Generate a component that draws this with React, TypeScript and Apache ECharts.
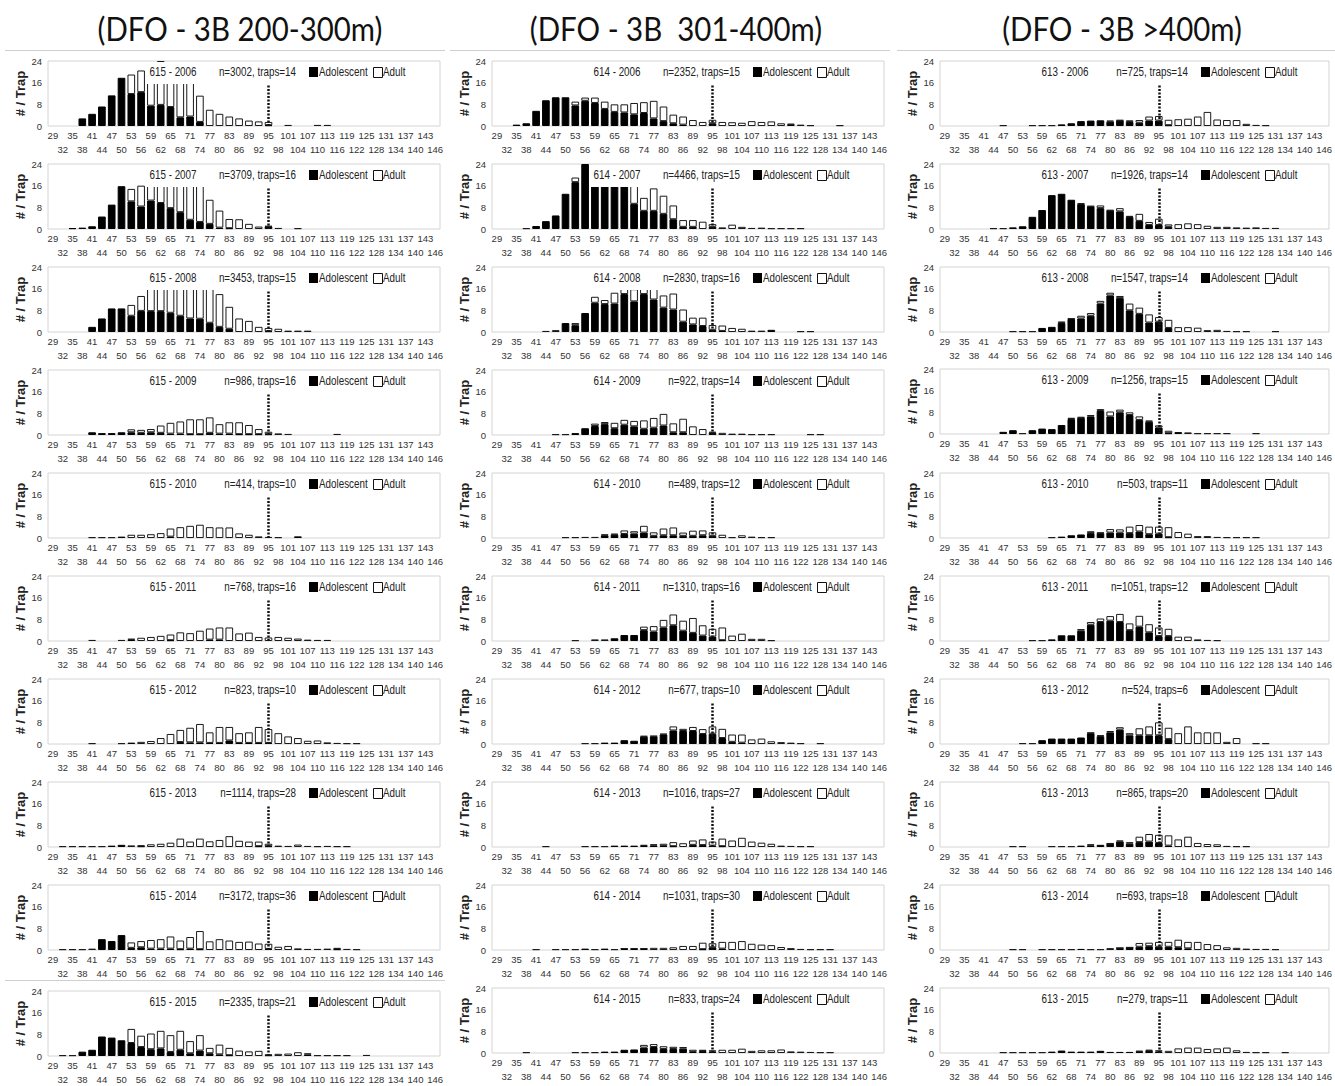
import React, { useEffect, useRef } from "react";
import * as echarts from "echarts";

// ---------- categories / ticks ----------
const sizeClasses = ["29","32","35","38","41","44","47","50","53","56","59","62","65","68","71","74","77","80","83","86","89","92","95","98","101","104","107","110","113","116","119","122","125","128","131","134","137","140","143","146"];
const yTicks = [0, 8, 16, 24];
const thresholdSize = "95";
const columnTitles = ["(DFO - 3B 200-300m)", "(DFO - 3B  301-400m)", "(DFO - 3B >400m)"];
const sites = ["615", "614", "613"];
const years = [2006, 2007, 2008, 2009, 2010, 2011, 2012, 2013, 2014, 2015];

const n615 = [3002, 3709, 3453, 986, 414, 768, 823, 1114, 3172, 2335];
const traps615 = [14, 16, 15, 16, 10, 16, 10, 28, 36, 21];
const n614 = [2352, 4466, 2830, 922, 489, 1310, 677, 1016, 1031, 833];
const traps614 = [15, 15, 16, 14, 12, 16, 10, 27, 30, 24];
const n613 = [725, 1926, 1547, 1256, 503, 1051, 524, 865, 693, 279];
const traps613 = [14, 14, 14, 15, 11, 12, 6, 20, 18, 11];

// ---------- site 615 (200-300m) ----------
const adol615_2006 = [0,0,0,2.8,4.5,7.2,11.3,17.8,11.8,12.5, 7.5,7.8,7,3.2,3.5,1.5,0,0,0,0, 0,0,0.3,0,0,0,0,0,0,0, 0,0,0,0,0,0,0,0,0,0];
const adult615_2006 = [0,0,0,0,0,0,0,0,7.2,8, 14.5,16.2,15,16.8,15.5,9.7,6,4.5,3.5,2.8, 2,1.7,1.2,0,0.4,0,0,0.4,0.4,0, 0,0,0,0,0,0,0,0,0,0];
const adol615_2007 = [0,0,0.3,0.5,1,4.6,9,15.8,10.2,8.3, 10.5,9.6,7.7,6.2,3.4,2.6,1.9,0.5,0.3,0, 0,0,0.9,0,0,0,0,0,0,0, 0,0,0,0,0,0,0,0,0,0];
const adult615_2007 = [0,0,0,0,0,0,0,0,4.6,7.7, 7.5,10.4,12.3,12.8,14.6,14.4,8.9,6.3,3.4,3.6, 1.9,0.9,0.2,0.4,0,0.3,0,0,0,0, 0,0,0,0,0,0,0,0,0,0];
const adol615_2008 = [0,0,0,0,1.9,5,8.7,8.7,6,7.8, 7.7,7.7,7.1,6,5,4.9,3.4,1.9,1.2,0, 0,0,0.3,0,0,0,0,0,0,0, 0,0,0,0,0,0,0,0,0,0];
const adult615_2008 = [0,0,0,0,0,0,0,0,4,5.5, 9.3,10.3,10.9,12,12,12.1,13.1,12.1,8.1,5, 4.1,1.9,1.2,1.2,0.5,0.5,0.5,0,0,0, 0,0,0,0,0,0,0,0,0,0];
const adol615_2009 = [0,0,0,0,1,0.7,0.7,1,1,0.8, 1,0.8,0.5,0.5,0.3,0.3,0.8,0.5,0.5,0.3, 0.3,0.3,0.3,0,0,0,0,0,0,0, 0,0,0,0,0,0,0,0,0,0];
const adult615_2009 = [0,0,0,0,0,0,0,0,1.1,1.1, 1.2,2.7,4,4.5,5.5,5.5,5.7,3.5,4.2,4.4, 3.4,1.9,0.9,0.6,0.4,0,0,0,0,0.4, 0,0,0,0,0,0,0,0,0,0];
const adol615_2010 = [0,0,0,0,0,0,0,0.5,0,0, 0,0,0.5,0,0,0,0,0,0,0, 0,0,0,0,0,0.6,0,0,0,0, 0,0,0,0,0,0,0,0,0,0];
const adult615_2010 = [0,0,0,0,0.3,0.3,0.3,0,1.2,1.2, 1.4,1.8,3,4,4.5,4.9,4,3.9,3.9,1.7, 1.2,0.6,0.4,0.3,0,0,0,0,0,0, 0,0,0,0,0,0,0,0,0,0];
const adol615_2011 = [0,0,0,0,0,0,0,0,0.5,0, 0,0,0.3,0,0,0,0.5,0.5,0,0, 0,0,0,0,0,0,0,0,0,0, 0,0,0,0,0,0,0,0,0,0];
const adult615_2011 = [0,0,0,0,0.4,0,0,0.4,0.3,1.2, 1.5,1.9,2.1,3.2,2.9,3.8,4.1,4.5,5,2.8, 3.1,1.5,1.3,1.5,1.2,0.9,0.5,0.4,0.4,0, 0,0,0,0,0,0,0,0,0,0];
const adol615_2012 = [0,0,0,0,0,0,0,0,0.5,0, 0,0,0,0.7,0.6,0.6,0.4,0.4,1.3,0.4, 0.4,0.4,0.4,0,0,0,0,0,0,0, 0,0,0,0,0,0,0,0,0,0];
const adult615_2012 = [0,0,0,0,0.3,0,0,0.3,0,0.8, 1.1,2.2,3.7,4.5,5.4,6.8,3.9,5.9,5,3.6, 3.9,5.9,5.1,4,2.8,2.2,1.2,1.3,0.6,0.4, 0.3,0.3,0,0,0,0,0,0,0,0];
const adol615_2013 = [0,0,0,0,0,0,0.5,0.8,0,0.3, 0,0,0,0,0,0,0,0,0,0, 0,0.3,0.3,0,0,0,0,0,0,0, 0,0,0,0,0,0,0,0,0,0];
const adult615_2013 = [0,0.3,0.3,0.3,0.3,0.3,0,0,0.6,0.3, 1,1.2,1.6,3.1,2,3.1,2.1,2.6,4,2.3, 2,1.7,0.9,0.5,0.4,0.9,0.4,0.3,0.4,0.3, 0.3,0,0,0,0,0,0,0,0,0];
const adol615_2014 = [0,0,0,0,0,4,3.3,5.5,0.8,1, 0.5,0.5,0.5,0.3,0.5,0.3,0,0,0,0, 0,0,0.4,0,0,0,0,0,0,0.3, 0,0,0,0,0,0,0,0,0,0];
const adult615_2014 = [0,0.3,0.3,0.3,0.5,0,0,0,2,2.3, 3.2,3.5,4.5,3.2,4.3,6.7,3.2,4,3.5,3, 3.1,2.4,1.9,1.2,1.5,0.6,0.4,0.4,0.5,0.5, 0.4,0.3,0,0,0,0,0,0,0,0];
const adol615_2015 = [0,0,0,1.6,2.3,7.2,6.8,5.8,4.8,3.3, 2.5,2.8,1.5,2.3,1,2,1,0.6,0.3,0, 0,0,0.3,0,0,0,0.5,0,0,0, 0,0,0,0,0,0,0,0,0,0];
const adult615_2015 = [0,0.3,0.3,0,0,0,0,0,5.2,4.2, 5.8,6.5,6.2,7,4.5,5.7,2,3.6,2.7,2, 1.7,1.9,0.2,0.8,0.9,1.4,0.5,0.3,0.3,0.3, 0.3,0,0.4,0,0,0,0,0,0,0];

// ---------- site 614 (301-400m) ----------
const adol614_2006 = [0,0,0.5,1,5.6,9.5,10.6,10.6,7.6,9.3, 8.5,6.3,5.2,5,4.3,4.8,2.8,1.8,1,0.5, 0,0,1,0,0,0,0,0,0,0, 0.4,0,0,0,0,0,0,0,0,0];
const adult614_2006 = [0,0,0,0,0,0,0,0,1.4,1.2, 2,2.7,2.8,3,4.2,4,6.5,5.4,3.2,3, 2.2,1.5,1.3,1.5,1.4,1.2,1.8,1.5,1.7,1, 0.5,0.5,0.3,0,0,0.3,0,0,0,0];
const adol614_2007 = [0,0,0,0,1.1,2.9,5,13,17.3,24, 19,18,17,16.5,9.3,6.7,6.7,5.6,3.6,0.8, 0.8,0,0.8,0,0,0,0,0,0,0, 0,0,0,0,0,0,0,0,0,0];
const adult614_2007 = [0,0,0,0.3,0,0,0,0,1.7,0, 0,0,0,0,7.7,4.8,8.3,6.7,5.1,2.5, 2.5,2.7,1,0.6,1.6,0.8,0.4,0.5,0.3,0.3, 0.3,0.3,0,0,0,0,0,0,0,0];
const adol614_2008 = [0,0,0,0,0,0,0,3.3,2.5,7, 10.8,10.3,10.5,14,11.3,14,12,9,8.3,3.8, 2.8,2.2,0.8,0.4,0,0,0,0,0.8,0, 0,0,0,0,0,0,0,0,0,0];
const adult614_2008 = [0,0,0,0,0,0.4,0.7,0,0.8,0, 2.2,1.5,4,2,4.5,2,4,4.5,5.9,4.5, 2.5,3.1,1.8,2,1.5,1.2,0.5,0.5,0,0, 0,0.3,0.3,0,0,0,0,0,0,0];
const adol614_2009 = [0,0,0,0,0,0,0,0,0.7,2.5, 3.3,4,2.5,3.8,3.2,2.3,2.7,3.5,1,1, 0,0,0.8,0,0,0,0,0,0,0, 0,0,0,0,0,0,0,0,0,0];
const adult614_2009 = [0,0,0,0,0,0,0.3,0.3,0,0, 0.9,0.8,2,1.8,2,3.1,3.6,4.3,3.3,5, 3.2,2.2,0.4,0.8,0.5,0.5,0.3,0.3,0.3,0, 0,0,0.3,0.3,0,0,0,0,0,0];
const adol614_2010 = [0,0,0,0,0,0,0,0,0,0, 0,1,1.2,1.5,1.6,2,0.8,1,1,0.8, 0.8,1,0.8,0,0,0,0,0,0,0, 0,0,0,0,0,0,0,0,0,0];
const adult614_2010 = [0,0,0,0,0,0,0,0.3,0.3,0.4, 0.4,0.3,0.4,1.3,0.9,2.5,1.3,2.5,2.9,1.2, 1.9,1.8,1.3,1.2,0.3,1,0.5,0.3,0.3,0, 0,0,0,0,0,0,0,0,0,0];
const adol614_2011 = [0,0,0,0,0,0,0,0,0,0, 0,0,1,2.2,2.2,4,3.5,5,5.8,3.8, 3,2,1.6,0.3,0,0,0,0,0,0, 0,0,0,0,0,0,0,0,0,0];
const adult614_2011 = [0,0,0,0,0,0,0,0,0.3,0, 0.6,0.6,0,0,0,1.3,2,2.8,4,3.7, 5.5,3.8,2.9,4.7,2,2.7,0.8,0.8,0.3,0, 0,0,0,0,0,0,0,0,0,0];
const adol614_2012 = [0,0,0,0,0,0,0,0,0,0, 0,0.5,0.5,1.4,1.2,2.7,2.8,3.5,5,4.8, 4.8,3.7,3.8,2.2,0.8,0.5,0,0,0,0, 0,0,0,0,0,0,0,0,0,0];
const adult614_2012 = [0,0,0,0,0,0,0,0,0,0.3, 0.3,0,0,0,0,0.3,0.2,0.3,1.5,0.8, 1.5,1.8,2.7,3.4,2.7,3,1.7,2,1,0.7, 0.5,0.3,0,0.3,0,0,0,0,0,0];
const adol614_2013 = [0,0,0,0,0,0,0,0,0,0, 0,0,0.5,0.5,0.5,0.4,0.6,0.4,0.3,0, 0.8,0.7,0.5,0.3,0,0,0,0,0,0, 0,0,0,0,0,0,0,0,0,0];
const adult614_2013 = [0,0,0,0,0,0.3,0,0,0,0.3, 0.3,0.3,0,0,0,0.4,0.4,0.8,1.5,1.4, 1.6,2.1,1.5,2.8,2.4,3.4,2,1.6,1.2,0.5, 0.4,0.3,0.3,0,0,0,0,0,0,0];
const adol614_2014 = [0,0,0,0,0,0,0,0,0,0.5, 0,0.5,0,0.4,0.4,0.4,0,0,0,0, 0,0.3,1,0.5,0,0,0,0,0,0, 0,0,0,0,0,0,0,0,0,0];
const adult614_2014 = [0,0,0,0,0.3,0,0.3,0.3,0.3,0, 0.3,0,0.3,0.2,0.2,0.2,0.8,0.8,1,1.5, 1.5,2.4,1.5,2.5,3,3.3,2.3,2,1.8,1.1, 0.7,0.4,0.3,0.3,0.3,0,0,0,0,0];
const adol614_2015 = [0,0,0,0,0,0,0,0,0,0, 0,0.5,0.5,1.2,1.3,2,2.2,1.5,1.5,1.6, 0.4,0.7,0.5,0,0,0,0,0,0,0, 0,0,0,0,0,0,0,0,0,0];
const adult614_2015 = [0,0,0,0.3,0,0,0,0,0.3,0.3, 0.3,0,0,0,0,1,1.1,1,0.8,0.6, 0.8,0.5,0.5,1.2,1.2,1.6,0.8,1,1,1.3, 0.6,0.5,0.4,0.3,0.3,0,0,0,0,0];

// ---------- site 613 (>400m) ----------
const adol613_2006 = [0,0,0,0,0,0,0,0,0,0, 0,0,0.6,1,1.8,2,2.1,1.6,2,1.5, 1.2,2,2,0.3,0,0,0,0,0,0, 0,0,0,0,0,0,0,0,0,0];
const adult613_2006 = [0,0,0,0,0,0,0.3,0,0,0.3, 0.3,0.3,0,0,0,0,0,0.4,0.2,0.6, 1,1.5,1.7,2,2.5,2.7,3.5,5.2,2.4,2.2, 2.2,0.8,0.4,0.3,0,0,0,0,0,0];
const adol613_2007 = [0,0,0,0,0,0,0,0.6,1,4.5, 7,12.5,13,10.8,9.2,8.3,7.7,6.8,6.5,4.5, 3,1.5,1.5,0.8,0,0,0,0,0,0, 0,0,0,0,0,0,0,0,0,0];
const adult613_2007 = [0,0,0,0,0,0.3,0.3,0,0,0, 0,0,0,0,0.3,0.2,1,0.2,1.2,0.3, 2.6,1.1,2.3,0.9,1.8,2.1,1.8,1.2,0.8,0.8, 0.6,0.5,0.6,0.4,0.4,0,0,0,0,0];
const adol613_2008 = [0,0,0,0,0,0,0,0,0,0, 1.5,1.9,3.3,4.8,5,6,10.5,13.5,12.5,8, 6.7,3.5,3.8,1.5,0,0,0,0,0,0, 0,0,0,0,0,0,0,0,0,0];
const adult613_2008 = [0,0,0,0,0,0,0,0.3,0.3,0.3, 0,0,0.6,0.2,1,1,1,1,0.8,2.5, 2.3,3,1.7,3,1.8,1.8,1.6,0.7,0.8,0.4, 0.3,0.3,0,0,0.3,0,0,0,0,0];
const adol613_2009 = [0,0,0,0,0,0,0.8,1.4,0,1.4, 2,1.8,3.3,5.5,6,6.5,8.5,6.5,8,7, 5.2,4.5,2.4,0.3,0.7,0,0,0,0,0, 0,0,0,0,0,0,0,0,0,0];
const adult613_2009 = [0,0,0,0,0,0,0,0,0.3,0, 0,0,0,0.5,0.3,0.5,0.7,1.8,1,1, 1.3,0.5,0.8,0.9,0,0.6,0.3,0.3,0.3,0.3, 0,0,0.3,0,0,0,0,0,0,0];
const adol613_2010 = [0,0,0,0,0,0,0,0,0,0, 0,0,0.5,1,1.3,1.8,1.8,2,2,1.8, 2.4,1.4,1.6,0.3,0,0,0,0,0,0, 0,0,0,0,0,0,0,0,0,0];
const adult613_2010 = [0,0,0,0,0,0,0,0,0,0, 0,0.3,0,0,0,0.7,0.2,1.3,1.2,2.4, 2.4,2.8,2.6,3.7,2.2,1.6,0.7,0.7,0.4,0.3, 0.3,0.3,0.3,0,0,0,0,0,0,0];
const adol613_2011 = [0,0,0,0,0,0,0,0,0,0, 0,0.6,2.1,2.1,3.8,6,7,7.5,7,4, 5.3,3.2,1.8,1.8,0,0,0,0,0,0, 0,0,0,0,0,0,0,0,0,0];
const adult613_2011 = [0,0,0,0,0,0,0,0,0,0.3, 0.3,0,0,0,0.6,1,1.3,1.7,3,2.5, 4,3,3.2,2.7,1.6,1.6,0.6,0.4,0.3,0, 0,0,0,0,0,0,0,0,0,0];
const adol613_2012 = [0,0,0,0,0,0,0,0,0,0, 1.4,2,2,2,2.4,4,2.9,4.3,5.3,3.2, 3.2,3.2,3.2,1.8,0,0,0,0,0,0, 0,0,0,0,0,0,0,0,0,0];
const adult613_2012 = [0,0,0,0,0,0,0,0,0.3,0.3, 0,0,0,0,0,0.2,0.3,0.5,0.9,0.8, 2.6,3.3,4.8,4.2,4,6.5,4.3,4.3,4.3,0.8, 2.2,0,0.3,0.3,0,0,0,0,0,0];
const adol613_2013 = [0,0,0,0,0,0,0,0,0,0, 0,0,0,0,0.5,0.6,0.8,1.2,2,1.2, 1.8,2,1.5,0.5,0,0,0,0,0,0, 0,0,0,0,0,0,0,0,0,0];
const adult613_2013 = [0,0,0,0,0,0,0,0.3,0.3,0, 0,0.3,0.3,0.3,0,0.4,0,0.2,0.4,0.6, 2,2.8,3,3.8,2.8,3.8,1.5,1.1,1,0.4, 0.3,0.3,0,0,0,0,0,0,0,0];
const adol613_2014 = [0,0,0,0,0,0,0,0,0,0, 0,0,0,0,0.4,0,0,0,0.7,0.9, 1.2,1.4,1.2,1.2,1,0.6,0,0,0,0, 0,0,0,0,0,0,0,0,0,0];
const adult613_2014 = [0,0,0,0,0,0,0,0.3,0.3,0, 0.3,0.3,0.3,0.3,0,0.3,0.3,0.7,0.1,0.1, 1.4,1.3,1.8,1.8,2.8,2.4,3,2.2,1.8,1, 0.8,0.5,0.4,0.4,0.3,0,0,0,0,0];
const adol613_2015 = [0,0,0,0,0,0,0,0,0,0, 0,0.5,0.9,0.5,0.5,0.5,0.8,0.4,0.4,0.4, 0.4,0.8,0.5,0,0,0,0,0,0,0, 0,0,0,0,0,0,0,0,0,0];
const adult613_2015 = [0,0,0,0,0,0,0.3,0.3,0.3,0.3, 0.3,0,0,0,0,0,0,0,0,0, 0.5,0.4,0.5,0.8,1.7,2,2,1.5,1.7,2, 1,0.4,0.3,0.3,0,0.3,0,0,0,0];

// ---------- tables built from the arrays ----------
const adolBySite = [
  [adol615_2006, adol615_2007, adol615_2008, adol615_2009, adol615_2010, adol615_2011, adol615_2012, adol615_2013, adol615_2014, adol615_2015],
  [adol614_2006, adol614_2007, adol614_2008, adol614_2009, adol614_2010, adol614_2011, adol614_2012, adol614_2013, adol614_2014, adol614_2015],
  [adol613_2006, adol613_2007, adol613_2008, adol613_2009, adol613_2010, adol613_2011, adol613_2012, adol613_2013, adol613_2014, adol613_2015],
];
const adultBySite = [
  [adult615_2006, adult615_2007, adult615_2008, adult615_2009, adult615_2010, adult615_2011, adult615_2012, adult615_2013, adult615_2014, adult615_2015],
  [adult614_2006, adult614_2007, adult614_2008, adult614_2009, adult614_2010, adult614_2011, adult614_2012, adult614_2013, adult614_2014, adult614_2015],
  [adult613_2006, adult613_2007, adult613_2008, adult613_2009, adult613_2010, adult613_2011, adult613_2012, adult613_2013, adult613_2014, adult613_2015],
];
const nBySite = [n615, n614, n613];
const trapsBySite = [traps615, traps614, traps613];

// ---------- layout ----------
const FONT = "'Liberation Sans', Arial, sans-serif";
const NARROW = 0.82; // horizontal squeeze that imitates the narrow face of the original
const COL_LEFT = [48, 492, 940];
const COL_TITLE_X = [240, 676, 1122];
const PLOT_W = 392;
const PLOT_H = 65;
const ZERO_Y = [
  [126, 229, 332, 435, 538, 641, 744, 847, 950, 1056],
  [126, 229, 332, 435, 538, 641, 744, 847, 950, 1053],
  [126, 229, 332, 434, 538, 641, 744, 847, 950, 1053],
];

function buildOption() {
  const grids: any[] = [];
  const xAxes: any[] = [];
  const yAxes: any[] = [];
  const series: any[] = [];
  const graphics: any[] = [];
  const thrIdx = sizeClasses.indexOf(thresholdSize);

  columnTitles.forEach((t, c) => {
    graphics.push({
      type: "text", x: COL_TITLE_X[c], y: 29, z: 60, scaleX: 0.92,
      style: { text: t, font: "32px Lato, 'Open Sans', sans-serif", fill: "#111", align: "center", verticalAlign: "middle", textAlign: "center", textVerticalAlign: "middle" },
    });
  });
  [[5, 445], [450, 890], [897, 1335]].forEach(([a, b]) => {
    graphics.push({ type: "line", z: 60, shape: { x1: a, y1: 50.5, x2: b, y2: 50.5 }, style: { stroke: "#cfcfcf", lineWidth: 1 } });
  });
  graphics.push({ type: "line", z: 60, shape: { x1: 5, y1: 980.5, x2: 445, y2: 980.5 }, style: { stroke: "#cfcfcf", lineWidth: 1 } });

  let k = 0;
  sites.forEach((site, c) => {
    years.forEach((year, r) => {
      const L = COL_LEFT[c];
      const zero = ZERO_Y[c][r];
      const top = zero - PLOT_H;
      grids.push({ left: L, top, width: PLOT_W, height: PLOT_H, show: true, borderColor: "#d4d4d4", borderWidth: 1, backgroundColor: "transparent" });
      xAxes.push({
        type: "category", gridIndex: k, data: sizeClasses,
        axisLine: { show: false }, axisTick: { show: false }, splitLine: { show: false },
        axisLabel: {
          interval: 0, fontSize: 9.5, fontFamily: FONT, color: "#333", margin: 2, lineHeight: 14,
          formatter: (v: string, i: number) => (i % 2 ? "\n" + v : v),
        },
      });
      yAxes.push({
        type: "value", gridIndex: k, min: yTicks[0], max: yTicks[yTicks.length - 1], interval: yTicks[1] - yTicks[0],
        axisLine: { show: false }, axisTick: { show: false }, splitLine: { show: false },
        axisLabel: { fontSize: 9.5, fontFamily: FONT, color: "#333", margin: 6 },
        name: "# / Trap", nameLocation: "middle", nameRotate: 90, nameGap: 21,
        nameTextStyle: { fontSize: 13, fontWeight: "bold", fontFamily: FONT, color: "#222" },
      });
      const adol = adolBySite[c][r];
      const adult = adultBySite[c][r];
      series.push({
        type: "bar", name: "Adolescent", xAxisIndex: k, yAxisIndex: k, stack: "p" + k, silent: true,
        barCategoryGap: "22%",
        data: adol.map((v) => (v === 0 ? null : v)),
        itemStyle: { color: "#000", borderColor: "#000", borderWidth: 1 },
      });
      series.push({
        type: "bar", name: "Adult", xAxisIndex: k, yAxisIndex: k, stack: "p" + k, silent: true,
        barCategoryGap: "22%",
        data: adult.map((v) => (v === 0 ? null : v)),
        itemStyle: { color: "#fff", borderColor: "#1a1a1a", borderWidth: 1 },
        markLine: {
          silent: true, symbol: ["none", "none"], label: { show: false },
          lineStyle: { type: [2, 1.5], width: 2.5, color: "#111" },
          data: [[{ coord: [thrIdx, 0] }, { coord: [thrIdx, 16] }]],
        },
      });
      // white box behind panel caption (hides bar tops, as in the original)
      graphics.push({ type: "rect", z: 50, silent: true, shape: { x: L + 98, y: top + 1, width: 268, height: PLOT_H - 43 }, style: { fill: "#fff" } });
      const ty = zero - 54;
      const txt = (text: string, x: number, align: string) => ({
        type: "text", x, y: ty, z: 51, scaleX: NARROW,
        style: { text, font: `12px ${FONT}`, fill: "#222", align, verticalAlign: "middle", textAlign: align, textVerticalAlign: "middle" },
      });
      graphics.push(txt(`${site} - ${year}`, L + 125, "center"));
      graphics.push(txt(`n=${nBySite[c][r]}, traps=${trapsBySite[c][r]}`, L + 248, "right"));
      graphics.push({ type: "rect", z: 51, shape: { x: L + 261, y: ty - 5, width: 9, height: 10 }, style: { fill: "#000" } });
      graphics.push(txt("Adolescent", L + 271, "left"));
      graphics.push({ type: "rect", z: 51, shape: { x: L + 325.5, y: ty - 4.5, width: 9, height: 10 }, style: { fill: "#fff", stroke: "#111", lineWidth: 1 } });
      graphics.push(txt("Adult", L + 335, "left"));
      k++;
    });
  });

  return {
    animation: false,
    backgroundColor: "#fff",
    grid: grids,
    xAxis: xAxes,
    yAxis: yAxes,
    series,
    graphic: { elements: graphics },
  };
}

export default function App() {
  const ref = useRef<HTMLDivElement>(null);
  useEffect(() => {
    if (!ref.current) return;
    const chart = echarts.init(ref.current, null, { renderer: "svg" });
    chart.setOption(buildOption() as any);
    return () => chart.dispose();
  }, []);
  return (
    <div
      ref={ref}
      style={{ position: "absolute", left: 0, top: 0, width: 1335, height: 1086, background: "#fff" }}
    />
  );
}
